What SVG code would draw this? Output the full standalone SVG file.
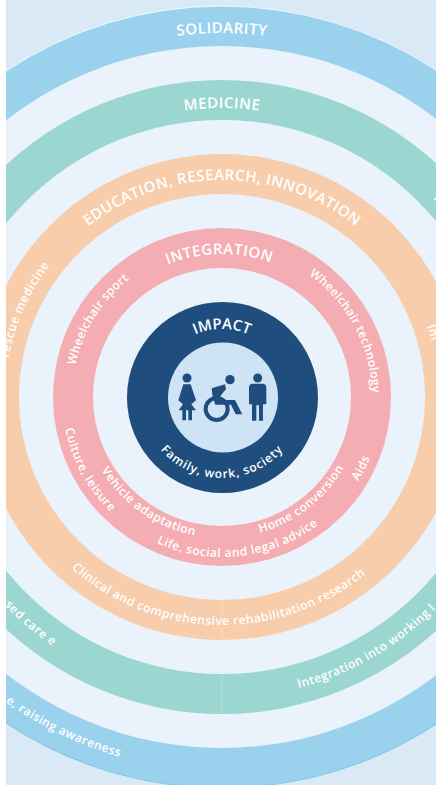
<svg xmlns="http://www.w3.org/2000/svg" width="436" height="785" viewBox="0 0 436 785">
<style>
text{font-family:"Open Sans","Noto Sans",sans-serif;font-weight:600;fill:#fff;font-size:12px;letter-spacing:.5px}
.c{font-size:15px}
.m{text-anchor:middle}
.e{text-anchor:end}
.d{fill:#1f4e7e}
</style>
<defs>
<path id="t364" d="M222 761A364 364 0 1 1 222 33A364 364 0 1 1 222 761"/>
<path id="t289" d="M222 686A289 289 0 1 1 222 108A289 289 0 1 1 222 686"/>
<path id="t217" d="M222 614A217 217 0 1 1 222 180A217 217 0 1 1 222 614"/>
<path id="t143" d="M222 540A143 143 0 1 1 222 254A143 143 0 1 1 222 540"/>
<path id="t150" d="M222 547A150 150 0 1 1 222 247A150 150 0 1 1 222 547"/>
<path id="t68" d="M222 465A68 68 0 1 1 222 329A68 68 0 1 1 222 465"/>
<path id="b81" d="M222 316A81 81 0 1 0 222 478A81 81 0 1 0 222 316"/>
<path id="b141" d="M222 256A141 141 0 1 0 222 538A141 141 0 1 0 222 256"/>
<path id="b160" d="M222 237A160 160 0 1 0 222 557A160 160 0 1 0 222 237"/>
<path id="b228" d="M222 169A228 228 0 1 0 222 625A228 228 0 1 0 222 169"/>
<path id="b301" d="M222 96A301 301 0 1 0 222 698A301 301 0 1 0 222 96"/>
<path id="b374" d="M222 23A374 374 0 1 0 222 771A374 374 0 1 0 222 23"/>
</defs>
<rect width="436" height="785" fill="#d9eaf6"/>
<g id="rings">
<circle cx="222" cy="397" r="391" fill="#9ad2ee"/>
<path d="M6 71A391 391 0 0 1 436 70" fill="none" stroke="#fff" stroke-width="0.8"/>
<path d="M6 723A391 391 0 0 0 436 724" fill="none" stroke="#85c8ea" stroke-width="1.2"/>
<circle cx="222" cy="397" r="351" fill="#eaf3fb"/>
<circle cx="222" cy="397" r="317" fill="#9bd6d0"/>
<circle cx="222" cy="397" r="277" fill="#eaf3fb"/>
<circle cx="222" cy="397" r="243" fill="#f8cdab"/>
<circle cx="222" cy="397" r="203" fill="#eaf3fb"/>
<circle cx="222" cy="397" r="169" fill="#f5adb4"/>
<circle cx="222" cy="397" r="129" fill="#eaf3fb"/>
<path d="M222 600V640M222 674V714" stroke="#fff" stroke-opacity=".25" stroke-width="1"/>
</g>
<g id="impact">
<circle cx="222.500" cy="397.500" r="95.500" class="d"/>
<circle cx="223" cy="397.500" r="55" fill="#cfe3f6"/>
<text class="c m" style="letter-spacing:0"><textPath href="#t68" startOffset="50%">IMPACT</textPath></text>
<text class="m" style="letter-spacing:.9px"><textPath href="#b81" startOffset="50%">Family, work, society</textPath></text>
<g transform="translate(170 365) scale(.3333)" class="d">
<circle cx="51" cy="39" r="13.500"/>
<path d="M40 58H62L78 106L64 118L78 136H66V166H55V136H48V166H37V136H26L39 118L25 106Z"/>
<circle cx="180" cy="44" r="14"/>
<circle cx="140" cy="132" r="33" fill="none" stroke="#1f4e7e" stroke-width="12"/>
<path d="M125 70L165 58L168 72L152 92L150 105H195L217 148H197L183 119H136L128 95Z"/>
<circle cx="263" cy="39" r="13.500"/>
<path d="M246 56H280Q289 58 289 68V118H279V167H267V121H259V167H246V118H237V68Q237 58 246 56Z"/>
</g>
</g>
<g id="integration">
<text class="c m"><textPath href="#t143" startOffset="49.700%">INTEGRATION</textPath></text>
<text class="m" style="letter-spacing:.3px"><textPath href="#t150" startOffset="33.900%">Wheelchair sport</textPath></text>
<text class="m" style="letter-spacing:.3px"><textPath href="#t150" startOffset="67.200%">Wheelchair technology</textPath></text>
<text class="m"><textPath href="#b160" startOffset="67.500%">Aids</textPath></text>
<text class="m"><textPath href="#b141" startOffset="60.500%">Home conversion</textPath></text>
<text class="m"><textPath href="#b160" startOffset="51.800%">Life, social and legal advice</textPath></text>
<text class="m"><textPath href="#b141" startOffset="40.300%">Vehicle adaptation</textPath></text>
<text class="m"><textPath href="#b160" startOffset="33%">Culture, leisure</textPath></text>
</g>
<g id="education">
<text class="c m"><textPath href="#t217" startOffset="50%">EDUCATION, RESEARCH, INNOVATION</textPath></text>
<text class="m"><textPath href="#b228" startOffset="49.700%">Clinical and comprehensive rehabilitation research</textPath></text>
<text class="e"><textPath href="#t217" startOffset="35.400%">rescue medicine</textPath></text>
<text><textPath href="#t217" startOffset="69.700%">Im</textPath></text>
</g>
<g id="medicine">
<text class="c m"><textPath href="#t289" startOffset="50%">MEDICINE</textPath></text>
<text><textPath href="#t289" startOffset="62.900%">T</textPath></text>
<text><textPath href="#b301" startOffset="54.100%">Integration into working l</textPath></text>
<text class="e"><textPath href="#b301" startOffset="40.500%">sed care e</textPath></text>
</g>
<g id="solidarity">
<text class="c m"><textPath href="#t364" startOffset="50%">SOLIDARITY</textPath></text>
<text class="e"><textPath href="#b374" startOffset="45.600%">e, raising awareness</textPath></text>
</g>
<rect width="6" height="785" fill="#fff"/>
</svg>
